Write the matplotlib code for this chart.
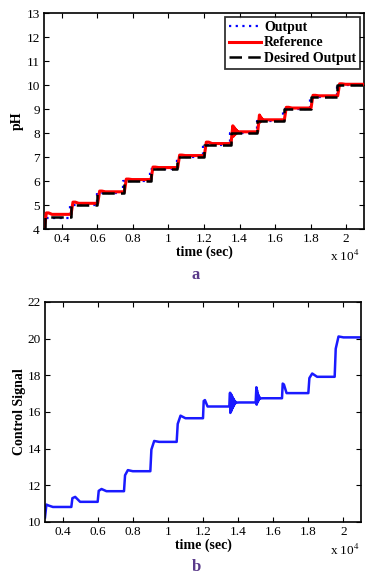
import matplotlib
matplotlib.use("Agg")
import matplotlib.pyplot as plt
import numpy as np

plt.rcParams['font.family'] = ['Liberation Serif', 'DejaVu Serif']
plt.rcParams['mathtext.fontset'] = 'stix'

# ---------------- data (a) pH ----------------
step_times = [3000, 4500, 6000, 7500, 9000, 10500, 12000, 13500, 15000, 16500, 18000, 19500]
t_end = 21000
ph_start = 4.0
desired_levels = [4.5, 5.0, 5.5, 6.0, 6.5, 7.0, 7.5, 8.0, 8.5, 9.0, 9.5, 10.0]
output_levels = [4.45, 5.0, 5.5, 6.0, 6.5, 7.0, 7.5, 8.0, 8.5, 9.0, 9.5, 10.0]
ref_levels = [4.61, 5.07, 5.55, 6.06, 6.56, 7.06, 7.56, 8.05, 8.55, 9.04, 9.55, 10.03]
ref_peaks = [4.67, 5.12, 5.58, 6.08, 6.58, 7.08, 7.62, 8.30, 8.75, 9.07, 9.57, 10.05]
ref_burst_13500 = [8.30, 7.86, 8.26, 7.90, 8.22, 7.93, 8.17, 7.96, 8.13, 7.99, 8.10, 8.01, 8.07, 8.04]
ref_burst_15000 = [8.75, 8.45, 8.70, 8.49, 8.65, 8.52, 8.60, 8.54, 8.57, 8.55]

# ---------------- data (b) control signal ----------------
ctrl_start = [10.25, 10.95, 10.90, 10.82]
ctrl_step_times = [4500, 6000, 7500, 9000, 10500, 12000, 13500, 15000, 16500, 18000, 19500]
ctrl_knee = [11.30, 11.70, 12.55, 13.95, 15.35, 16.60, 16.60, 17.30, 17.55, 17.85, 19.45]
ctrl_peak = [11.37, 11.80, 12.83, 14.42, 15.80, 16.65, 17.05, 17.35, 17.50, 18.10, 20.12]
ctrl_levels = [11.10, 11.68, 12.77, 14.37, 15.66, 16.30, 16.52, 16.75, 17.03, 17.92, 20.07]
ctrl_burst_13500 = [17.05, 15.95, 17.00, 16.02, 16.95, 16.10, 16.88, 16.18, 16.80, 16.25,
                    16.74, 16.32, 16.68, 16.38, 16.62, 16.44, 16.58, 16.48, 16.55, 16.51]
ctrl_burst_15000 = [17.35, 16.40, 17.20, 16.50, 17.05, 16.58, 16.95, 16.64, 16.86, 16.70, 16.80, 16.74]

xtick_vals = [4000, 6000, 8000, 10000, 12000, 14000, 16000, 18000, 20000]
xtick_labels = ['0.4', '0.6', '0.8', '1', '1.2', '1.4', '1.6', '1.8', '2']
ph_ticks = [4, 5, 6, 7, 8, 9, 10, 11, 12, 13]
ctrl_ticks = [10, 12, 14, 16, 18, 20, 22]

# ---------------- build traces ----------------
des_x = [step_times[0]] + [t + 60 for t in step_times[:1]] + step_times[1:] + [t_end]
des_y = [ph_start] + desired_levels + [desired_levels[-1]]
out_x = [step_times[0]] + [step_times[0] + 40] + [t - 40 for t in step_times[1:]] + [t_end]
out_y = [ph_start] + output_levels + [output_levels[-1]]

bursts_ref = {13500: ref_burst_13500, 15000: ref_burst_15000}
rx, ry = [step_times[0]], [ph_start]
prev = ph_start
for T, pk, lv in zip(step_times, ref_peaks, ref_levels):
    rx += [T + 20]; ry += [prev]
    if T in bursts_ref:
        b = bursts_ref[T]
        for j, v in enumerate(b):
            rx.append(T + 120 + j * 22); ry.append(v)
        rx.append(T + 120 + len(b) * 22 + 100); ry.append(lv)
    else:
        rx += [T + 130, T + 260, T + 450]; ry += [pk, pk, lv]
    prev = lv
rx.append(t_end); ry.append(prev)

bursts_ctrl = {13500: ctrl_burst_13500, 15000: ctrl_burst_15000}
cx = [3000, 3080, 3200, 3450]
cy = list(ctrl_start)
prev = ctrl_start[-1]
for T, kn, pk, lv in zip(ctrl_step_times, ctrl_knee, ctrl_peak, ctrl_levels):
    cx += [T]; cy += [prev]
    if T in bursts_ctrl:
        b = bursts_ctrl[T]
        for j, v in enumerate(b):
            cx.append(T + 40 + j * 18); cy.append(v)
        cx.append(T + 40 + len(b) * 18 + 150); cy.append(lv)
    elif kn >= pk - 0.06:
        # narrow spike
        cx += [T + 40, T + 110, T + 260]; cy += [kn, pk, lv]
    else:
        cx += [T + 60, T + 220, T + 500]; cy += [kn, pk, lv]
    prev = lv
cx.append(t_end); cy.append(prev)

# ---------------- figure ----------------
fig = plt.figure(figsize=(3.67, 5.77), dpi=100)
ax1 = fig.add_axes([44 / 367, 1 - 229 / 577, 320 / 367, 216 / 577])
ax2 = fig.add_axes([45 / 367, 1 - 522 / 577, 316 / 367, 220 / 577])

ax1.plot(out_x, out_y, drawstyle='steps-post', color='#0000ff', linestyle=(0, (1, 2)), lw=1.6, label='Output', zorder=2)
ax1.plot(rx, ry, color='#ff0000', lw=2.2, label='Reference', zorder=3)
ax1.plot(des_x, des_y, drawstyle='steps-post', color='black', linestyle=(0, (5, 2.5)), lw=1.8, zorder=4)
ax1.plot([], [], color='black', linestyle=(0, (5, 2.5, 5, 2.5, 1.2, 2.5)), lw=1.8, label='Desired Output')

ax2.plot(cx, cy, color='#1a1aff', lw=1.8)

for ax, yt, ylim in [(ax1, ph_ticks, (4, 13)), (ax2, ctrl_ticks, (10, 22))]:
    ax.set_xlim(3000, t_end)
    ax.set_ylim(*ylim)
    ax.set_xticks(xtick_vals)
    ax.set_xticklabels(xtick_labels)
    ax.set_yticks(yt)
    ax.tick_params(direction='in', length=3.5, width=0.8, top=True, right=True,
                   labelsize=9.5, pad=3, colors='black')
    for s in ax.spines.values():
        s.set_linewidth(1.2)
    ax.set_xlabel('time (sec)', fontsize=10, fontweight='bold', labelpad=0)

ax1.set_ylabel('pH', fontsize=10, fontweight='bold', labelpad=2)
ax2.set_ylabel('Control Signal', fontsize=10, fontweight='bold', labelpad=1)

leg = ax1.legend(loc='upper right', prop={'weight': 'bold', 'size': 10},
                 frameon=True, fancybox=False, borderaxespad=0.3, handlelength=2.3,
                 handletextpad=0.25, labelspacing=0.2, borderpad=0.25)
leg.get_frame().set_edgecolor('black')
leg.get_frame().set_linewidth(1.3)

fig.text(345 / 367, 1 - 256 / 577, r'x 10$^4$', fontsize=9.5, ha='center', va='center')
fig.text(345 / 367, 1 - 550 / 577, r'x 10$^4$', fontsize=9.5, ha='center', va='center')
fig.text(196 / 367, 1 - 275 / 577, 'a', fontsize=12, fontweight='bold', color='#5a3a8a', ha='center', va='center')
fig.text(196 / 367, 1 - 567 / 577, 'b', fontsize=12, fontweight='bold', color='#5a3a8a', ha='center', va='center')

fig.savefig('out.png', dpi=100)
